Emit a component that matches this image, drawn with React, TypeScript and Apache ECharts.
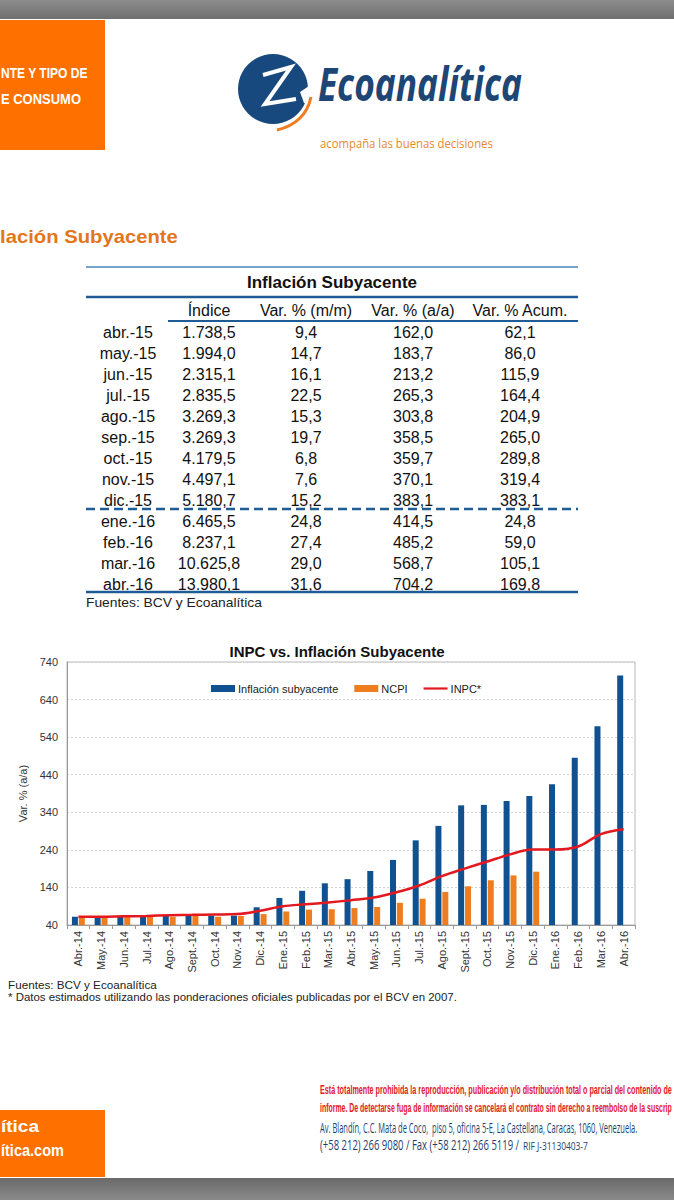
import React, { useEffect, useRef } from 'react';
import * as echarts from 'echarts';

// ---------- chart data ----------
const categories = ['Abr.-14','May.-14','Jun.-14','Jul.-14','Ago.-14','Sept.-14','Oct.-14','Nov.-14','Dic.-14','Ene.-15','Feb.-15','Mar.-15','Abr.-15','May.-15','Jun.-15','Jul.-15','Ago.-15','Sept.-15','Oct.-15','Nov.-15','Dic.-15','Ene.-16','Feb.-16','Mar.-16','Abr.-16'];
const subyacente = [62, 61, 62, 63, 64, 64, 65, 65, 87, 112, 131, 151, 162.0, 183.7, 213.2, 265.3, 303.8, 358.5, 359.7, 370.1, 383.1, 414.5, 485.2, 568.7, 704.2];
const ncpi = [61, 60, 61, 62, 62, 64, 62, 64, 69, 76, 81, 82, 85, 88, 99, 110, 128, 143, 159, 172, 182, null, null, null, null];
const inpc = [62, 62, 63, 64, 66, 67, 68, 69, 78, 90, 95, 100, 106, 113, 127, 145, 170, 190, 209, 228, 241, 241, 249, 282, 295];
const yMin = 40;
const yMax = 740;
const yStep = 100;

// ---------- table data ----------
const tableMonths = ['abr.-15','may.-15','jun.-15','jul.-15','ago.-15','sep.-15','oct.-15','nov.-15','dic.-15','ene.-16','feb.-16','mar.-16','abr.-16'];
const tableIndice = ['1.738,5','1.994,0','2.315,1','2.835,5','3.269,3','3.269,3','4.179,5','4.497,1','5.180,7','6.465,5','8.237,1','10.625,8','13.980,1'];
const tableVarMM = ['9,4','14,7','16,1','22,5','15,3','19,7','6,8','7,6','15,2','24,8','27,4','29,0','31,6'];
const tableVarAA = ['162,0','183,7','213,2','265,3','303,8','358,5','359,7','370,1','383,1','414,5','485,2','568,7','704,2'];
const tableVarAcum = ['62,1','86,0','115,9','164,4','204,9','265,0','289,8','319,4','383,1','24,8','59,0','105,1','169,8'];
const tableHeaders = ['Índice','Var. % (m/m)','Var. % (a/a)','Var. % Acum.'];

const FF = '"Liberation Sans", Arial, sans-serif';
const BLUE = '#0f5191';
const ORANGE = '#ee7d1f';
const RED = '#e3191f';

let measureCtx: CanvasRenderingContext2D | null = null;
function fit(text: string, font: string, width: number): number {
  if (!measureCtx) measureCtx = document.createElement('canvas').getContext('2d');
  if (!measureCtx) return 1;
  measureCtx.font = font;
  const w = measureCtx.measureText(text).width;
  return w > 0 ? width / w : 1;
}

function txt(text: string, x: number, y: number, font: string, fill: string, align = 'left', scaleX = 1) {
  return {
    type: 'text',
    x,
    y,
    scaleX,
    silent: true,
    style: {
      text,
      x: 0,
      y: 0,
      font,
      fill,
      align,
      verticalAlign: 'middle',
      textAlign: align,
      textVerticalAlign: 'middle',
    },
  };
}

function fitTxt(text: string, x: number, y: number, font: string, fill: string, width: number) {
  return txt(text, x, y, font, fill, 'left', fit(text, font, width));
}

function hline(x1: number, x2: number, y: number, color: string, w: number, dash?: number[]) {
  return {
    type: 'line',
    silent: true,
    shape: { x1, y1: y, x2, y2: y },
    style: { stroke: color, lineWidth: w, lineDash: dash },
  };
}

function buildGraphics() {
  const g: any[] = [];
  // top & bottom gray bars
  g.push({ type: 'rect', silent: true, shape: { x: 0, y: 0, width: 674, height: 19 },
    style: { fill: new echarts.graphic.LinearGradient(0, 0, 0, 1, [{ offset: 0, color: '#8c8c8c' }, { offset: 1, color: '#6f6f6f' }]) } });
  g.push({ type: 'rect', silent: true, shape: { x: 0, y: 1178, width: 674, height: 22 },
    style: { fill: new echarts.graphic.LinearGradient(0, 0, 0, 1, [{ offset: 0, color: '#6a6a6a' }, { offset: 1, color: '#8a8a8a' }]) } });
  // orange boxes
  g.push({ type: 'rect', silent: true, shape: { x: 0, y: 20, width: 105, height: 130 }, style: { fill: '#fe7000' } });
  g.push({ type: 'rect', silent: true, shape: { x: 0, y: 1110, width: 105, height: 67 }, style: { fill: '#fe7000' } });
  const boxFont = `bold 15px ${FF}`;
  g.push(fitTxt('NTE Y TIPO DE', 1, 73, boxFont, '#ffffff', 87));
  g.push(fitTxt('E CONSUMO', 1, 99, boxFont, '#ffffff', 80));
  const boxFont2 = `bold 16px ${FF}`;
  g.push(fitTxt('ítica', 1, 1127, boxFont2, '#ffffff', 38));
  g.push(fitTxt('ítica.com', 1, 1150, boxFont2, '#ffffff', 63));

  // logo icon
  g.push({ type: 'circle', silent: true, shape: { cx: 273, cy: 89, r: 35 }, style: { fill: '#17497e' } });
  g.push({ type: 'polyline', silent: true, shape: { points: [[263, 75], [291, 67], [265, 104], [296, 99]] },
    style: { stroke: '#ffffff', lineWidth: 4, fill: null, lineJoin: 'miter' } });
  g.push({ type: 'polygon', silent: true, shape: { points: [[300, 92], [312, 84], [312, 104], [304, 103]] }, style: { fill: '#ffffff' } });
  g.push({ type: 'bezierCurve', silent: true,
    shape: { x1: 311, y1: 97, cpx1: 307, cpy1: 116, cpx2: 294, cpy2: 126, x2: 277, y2: 130 },
    style: { stroke: '#ef7d22', lineWidth: 3, fill: null } });
  const logoFont = `italic 700 46px "Open Sans", ${FF}`;
  g.push(fitTxt('Ecoanalítica', 318, 83, logoFont, '#1d4675', 204));
  g.push(fitTxt('acompaña las buenas decisiones', 320, 143, `12px "Open Sans", ${FF}`, '#e8872d', 173));

  // section title
  g.push(fitTxt('lación Subyacente', 0, 237, `bold 18px ${FF}`, '#e2761b', 178));

  // table
  const tBlue = '#1f5c96';
  g.push(hline(86, 578, 267, '#4a83bb', 1.5));
  g.push(txt('Inflación Subyacente', 332, 282, `bold 17px ${FF}`, '#111111', 'center'));
  g.push(hline(86, 578, 297, tBlue, 2.5));
  const colX = [209, 306, 413, 520];
  const tFont = `16px ${FF}`;
  tableHeaders.forEach((h, i) => g.push(txt(h, colX[i], 310, tFont, '#111111', 'center')));
  g.push(hline(168, 578, 321, tBlue, 2));
  tableMonths.forEach((m, i) => {
    const y = i < 9 ? 332 + 21 * i : 521 + 21 * (i - 9);
    g.push(txt(m, 128, y, tFont, '#111111', 'center'));
    g.push(txt(tableIndice[i], colX[0], y, tFont, '#111111', 'center'));
    g.push(txt(tableVarMM[i], colX[1], y, tFont, '#111111', 'center'));
    g.push(txt(tableVarAA[i], colX[2], y, tFont, '#111111', 'center'));
    g.push(txt(tableVarAcum[i], colX[3], y, tFont, '#111111', 'center'));
  });
  g.push(hline(86, 578, 509, tBlue, 2.5, [9, 5]));
  g.push(hline(86, 578, 592, tBlue, 2.5));
  g.push(fitTxt('Fuentes: BCV y Ecoanalítica', 86, 603, `13px ${FF}`, '#222222', 176));

  // chart notes
  g.push(fitTxt('Fuentes: BCV y Ecoanalítica', 8, 985, `11px ${FF}`, '#222222', 149));
  g.push(fitTxt('* Datos estimados utilizando las ponderaciones oficiales publicadas por el BCV en 2007.', 8, 997, `11px ${FF}`, '#222222', 449));

  // footer
  const redFont = `bold 13px ${FF}`;
  g.push(fitTxt('Está totalmente prohibida la reproducción, publicación y/o distribución total o parcial del contenido de', 320, 1089, redFont, '#df2027', 352));
  g.push(fitTxt('informe. De detectarse fuga de información se cancelará el contrato sin derecho a reembolso de la suscrip', 320, 1108, redFont, '#df2027', 352));
  const adrFont = `15px "Open Sans", ${FF}`;
  g.push(fitTxt('Av. Blandín, C.C. Mata de Coco,  piso 5, oficina 5-E, La Castellana, Caracas, 1060, Venezuela.', 320, 1127, adrFont, '#1d3f6e', 317));
  g.push(fitTxt('(+58 212) 266 9080 / Fax (+58 212) 266 5119 /', 320, 1145, adrFont, '#1d3f6e', 199));
  g.push(fitTxt('RIF J-31130403-7', 523, 1146, `10px "Open Sans", ${FF}`, '#1d3f6e', 65));
  return g;
}

export default function App() {
  const ref = useRef<HTMLDivElement>(null);
  useEffect(() => {
    document.body.style.margin = '0';
    if (!ref.current) return;
    const chart = echarts.init(ref.current, undefined, { renderer: 'svg' });
    const axisText = { fontSize: 11, color: '#333333', fontFamily: FF };
    chart.setOption({
      animation: false,
      backgroundColor: '#ffffff',
      textStyle: { fontFamily: FF },
      title: {
        text: 'INPC vs. Inflación Subyacente',
        left: 'center',
        top: 639,
        textStyle: { fontSize: 15, fontWeight: 'bold', color: '#111111', fontFamily: FF },
      },
      legend: {
        left: 206,
        top: 678,
        itemWidth: 24,
        itemHeight: 7,
        itemGap: 16,
        symbolKeepAspect: true,
        textStyle: { fontSize: 11, color: '#222222', fontFamily: FF, padding: [0, 0, 0, -2] },
        data: [
          { name: 'Inflación subyacente', icon: 'rect' },
          { name: 'NCPI', icon: 'rect' },
          { name: 'INPC*', icon: 'path://M0,0H26V2.4H0Z' },
        ],
      },
      grid: {
        left: 67,
        top: 662,
        width: 568,
        height: 263,
        show: true,
        borderColor: '#b8b8b8',
        borderWidth: 1,
        containLabel: false,
      },
      xAxis: {
        type: 'category',
        data: categories,
        axisLine: { lineStyle: { color: '#9a9a9a' } },
        axisTick: { show: true, length: 4, lineStyle: { color: '#9a9a9a' } },
        axisLabel: { ...axisText, rotate: 90, margin: 6, interval: 0 },
      },
      yAxis: {
        type: 'value',
        min: yMin,
        max: yMax,
        interval: yStep,
        name: 'Var. % (a/a)',
        nameLocation: 'middle',
        nameGap: 38,
        nameTextStyle: { ...axisText },
        axisLine: { show: true, lineStyle: { color: '#9a9a9a' } },
        axisTick: { show: false },
        axisLabel: { ...axisText, margin: 9 },
        splitLine: { lineStyle: { color: '#d4d4d4', type: [2, 2] } },
      },
      series: [
        {
          name: 'Inflación subyacente',
          type: 'bar',
          data: subyacente,
          barWidth: 6,
          barGap: '15%',
          itemStyle: { color: BLUE },
        },
        {
          name: 'NCPI',
          type: 'bar',
          data: ncpi,
          barWidth: 6,
          itemStyle: { color: ORANGE },
        },
        {
          name: 'INPC*',
          type: 'line',
          data: inpc,
          smooth: 0.35,
          symbol: 'none',
          z: 5,
          lineStyle: { color: RED, width: 2.5 },
          itemStyle: { color: RED },
        },
      ],
      graphic: { elements: buildGraphics() },
    });
    return () => chart.dispose();
  }, []);
  return <div ref={ref} style={{ position: 'absolute', left: 0, top: 0, width: 674, height: 1200 }} />;
}
